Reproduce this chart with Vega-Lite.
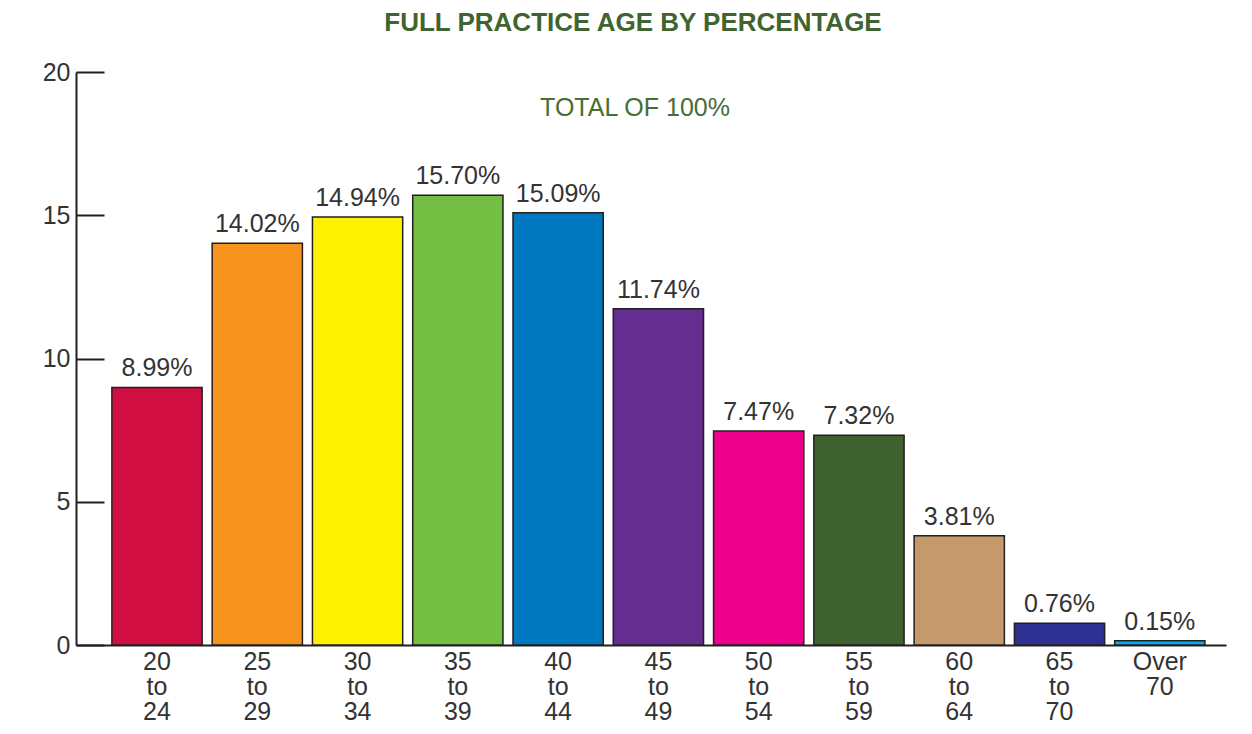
{
  "$schema": "https://vega.github.io/schema/vega-lite/v6.json",
  "width": 1150,
  "height": 573,
  "autosize": "none",
  "padding": {"left": 76, "top": 72, "right": 26, "bottom": 89},
  "background": "white",
  "title": {
    "text": "FULL PRACTICE AGE BY PERCENTAGE",
    "anchor": "middle",
    "frame": "group",
    "dx": -18,
    "offset": 24,
    "font": "Liberation Sans",
    "fontSize": 26,
    "fontWeight": "bold",
    "color": "#3F6430"
  },
  "config": {
    "view": {"stroke": null},
    "font": "Liberation Sans"
  },
  "layer": [
    {
      "data": {
        "values": [
          {"age": "20 to 24", "pct": 8.99, "color": "#D20F42"},
          {"age": "25 to 29", "pct": 14.02, "color": "#F7941E"},
          {"age": "30 to 34", "pct": 14.94, "color": "#FFF200"},
          {"age": "35 to 39", "pct": 15.70, "color": "#72BF44"},
          {"age": "40 to 44", "pct": 15.09, "color": "#0079C1"},
          {"age": "45 to 49", "pct": 11.74, "color": "#662D91"},
          {"age": "50 to 54", "pct": 7.47, "color": "#EC008C"},
          {"age": "55 to 59", "pct": 7.32, "color": "#3F6130"},
          {"age": "60 to 64", "pct": 3.81, "color": "#C49A6C"},
          {"age": "65 to 70", "pct": 0.76, "color": "#2E3192"},
          {"age": "Over 70", "pct": 0.15, "color": "#00AEEF"}
        ]
      },
      "transform": [
        {"calculate": "format(datum.pct, '.2f') + '%'", "as": "label"}
      ],
      "encoding": {
        "x": {
          "field": "age",
          "type": "nominal",
          "sort": null,
          "scale": {"paddingInner": 0.1, "paddingOuter": 0.284, "align": 0.63},
          "axis": {
            "title": null,
            "labelAngle": 0,
            "labelExpr": "split(datum.label, ' ')",
            "labelFontSize": 25,
            "labelLineHeight": 25,
            "labelColor": "#333333",
            "labelPadding": 4,
            "ticks": false,
            "domainColor": "#231F20",
            "domainWidth": 2
          }
        },
        "y": {
          "field": "pct",
          "type": "quantitative",
          "scale": {"domain": [0, 20], "nice": false},
          "axis": {
            "title": null,
            "values": [0, 5, 10, 15, 20],
            "grid": false,
            "tickSize": -28,
            "tickWidth": 2,
            "tickColor": "#231F20",
            "labelPadding": 34,
            "labelFontSize": 25,
            "labelColor": "#333333",
            "domainColor": "#231F20",
            "domainWidth": 2
          }
        }
      },
      "layer": [
        {
          "mark": {"type": "bar", "stroke": "#231F20", "strokeWidth": 1.5},
          "encoding": {
            "color": {"field": "color", "type": "nominal", "scale": null, "legend": null}
          }
        },
        {
          "mark": {"type": "text", "baseline": "bottom", "dy": -6, "fontSize": 25, "color": "#333333"},
          "encoding": {"text": {"field": "label"}}
        }
      ]
    },
    {
      "data": {"values": [{"note": "TOTAL OF 100%"}]},
      "mark": {"type": "text", "fontSize": 25, "color": "#466E35", "dx": -16},
      "encoding": {
        "y": {"datum": 18.75},
        "text": {"field": "note"}
      }
    }
  ]
}
